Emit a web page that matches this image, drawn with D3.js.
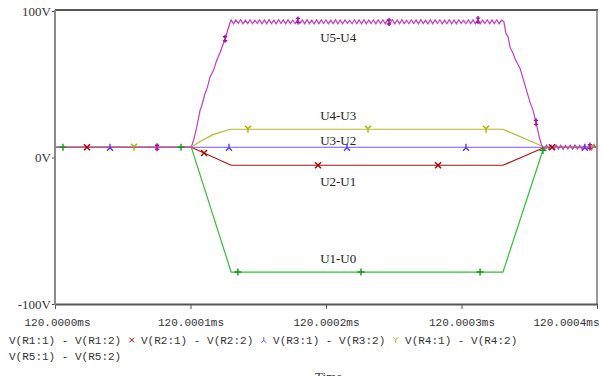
<!DOCTYPE html>
<html>
<head>
<meta charset="utf-8">
<script src="https://cdn.jsdelivr.net/npm/d3@7"></script>
<style>
body { margin: 0; background: #fff; }
</style>
</head>
<body>
<svg id="chart"></svg>
<script>
// time in ns after 120.0000ms, values in volts
const tickTimes = [0, 100, 200, 300, 400];
const tickLabels = ["120.0000ms", "120.0001ms", "120.0002ms", "120.0003ms", "120.0004ms"];
const yTicks = [100, 0, -100];
const yTickLabels = ["100V", "0V", "-100V"];

const legendNames = ["V(R1:1) - V(R1:2)", "V(R2:1) - V(R2:2)", "V(R3:1) - V(R3:2)", "V(R4:1) - V(R4:2)", "V(R5:1) - V(R5:2)"];
const traceLabels = ["U1-U0", "U2-U1", "U3-U2", "U4-U3", "U5-U4"];

const u10 = [[0, 7], [100.6, 7], [130, -78.2], [330.6, -78.2], [360, 4.8], [364, 7], [400, 7]];
const u21 = [[0, 7], [100.6, 7], [130, -5.3], [330.6, -5.3], [361.4, 7], [400, 7]];
const u32 = [[0, 7], [400, 7]];
const u43 = [[0, 7], [100.6, 7], [107, 10.9], [116.6, 15.6], [129.2, 19.3], [330.6, 19.3], [361.4, 7], [400, 7]];

const u54Rise = [[0, 7], [100.6, 7], [102.5, 12.5], [104.6, 20.7], [107, 32], [108.5, 36], [110.7, 43.5],
  [112.5, 48], [114.4, 54.8], [117, 59.5], [119.3, 66.2], [122, 72], [125.5, 81.1], [128.9, 91.3]];
// flat top, sampled every 1.75ns from 130ns
const u54Top = [
  94.0, 91.3, 93.9, 91.5, 94.1, 91.2, 93.8, 91.4, 94.0, 91.3,
  93.7, 91.5, 94.1, 91.3, 93.9, 91.2, 94.0, 91.4, 93.8, 91.3,
  94.1, 91.5, 93.9, 91.2, 94.0, 91.4, 93.7, 91.3, 94.0, 91.5,
  93.9, 91.2, 94.1, 91.4, 93.8, 91.3, 94.0, 91.2, 93.9, 91.5,
  94.0, 91.3, 93.8, 91.4, 94.1, 91.2, 93.9, 91.3, 94.0, 91.5,
  93.7, 91.3, 94.0, 91.4, 93.9, 91.2, 94.1, 91.3, 93.8, 91.5,
  94.0, 91.2, 93.9, 91.4, 94.0, 91.3, 93.8, 91.5, 94.1, 91.3,
  93.9, 91.2, 94.0, 91.4, 93.7, 91.3, 94.0, 91.5, 93.9, 91.2,
  94.1, 91.4, 93.8, 91.3, 94.0, 91.2, 93.9, 91.5, 94.0, 91.3,
  93.8, 91.4, 94.1, 91.2, 93.9, 91.3, 94.0, 91.5, 93.7, 91.3,
  94.0, 91.4, 93.9, 91.2, 94.1, 91.3, 93.8, 91.5, 94.0, 91.2,
  93.9, 91.4, 94.0, 91.3, 93.8, 92.7];
const u54Fall = [[332.8, 84.7], [334.5, 82.1], [335.8, 75.3], [338.2, 70.8], [339.5, 67.4], [343.2, 60.8],
  [346.9, 49.2], [350.6, 37.6], [352.8, 32.2], [355, 24], [357.4, 14], [359.2, 8.3]];
// ringing after the fall, every 1.75ns from 361ns
const u54Tail = [5.6, 8.4, 5.7, 8.3, 5.6, 8.5, 5.7, 8.4, 5.6, 8.3, 5.8, 8.4, 5.6, 8.5, 5.7, 8.3, 5.6, 8.4, 5.7, 8.3, 5.6, 8.4, 7.0];

const u54 = [
  ...u54Rise,
  ...u54Top.map((v, i) => [130 + i * 1.75, v]),
  ...u54Fall,
  ...u54Tail.map((v, i) => [361 + i * 1.75, v])
];

// marker times per trace
const u10Marks = [5.9, 93, 135, 225.8, 313.7, 360.1];
const u21Marks = [23.6, 110, 194.1, 282.7, 366.8];
const u32Marks = [40.6, 128.4, 215.5, 303.3, 391];
const u43Marks = [58.3, 142.4, 231, 318.1, 396];
const u54Marks = [75.3, 125.5, 179.3, 246.5, 312.2, 355, 394.8];

const width = 604;
const height = 376;
const plotLeft = 55, plotRight = 597, plotTop = 10, plotBottom = 304;

const x = d3.scaleLinear().domain([0, 400]).range([plotLeft, plotRight]);
const y = d3.scaleLinear().domain([-100, 100]).range([plotBottom, 11]);

const svg = d3.select("#chart")
  .attr("width", width)
  .attr("height", height)
  .attr("viewBox", [0, 0, width, height]);

const markerPaths = {
  plus: "M-3.5,0H3.5M0,-3.5V3.5",
  cross: "M-3,-3L3,3M-3,3L3,-3",
  lambda: "M0,-3.5V0.5M0,0.5L-3,3.5M0,0.5L3,3.5",
  ychar: "M0,3.5V-0.5M0,-0.5L-3,-3.5M0,-0.5L3,-3.5",
  dagger: "M0,-4V4M-2.2,-2H2.2M-2.2,2H2.2"
};

const traces = [
  { data: u10, marks: u10Marks, color: "#33c033", markColor: "#129a12", marker: "plus" },
  { data: u21, marks: u21Marks, color: "#b01010", markColor: "#b00000", marker: "cross" },
  { data: u32, marks: u32Marks, color: "#7a55ff", markColor: "#5a32ff", marker: "lambda" },
  { data: u43, marks: u43Marks, color: "#b8b824", markColor: "#b0b000", marker: "ychar" },
  { data: u54, marks: u54Marks, color: "#c43cc4", markColor: "#a010a0", marker: "dagger" }
];

// frame
svg.append("line").attr("x1", plotLeft).attr("x2", plotRight + 1).attr("y1", plotTop).attr("y2", plotTop)
  .attr("stroke", "#555").attr("stroke-width", 2);
svg.append("line").attr("x1", plotRight).attr("x2", plotRight).attr("y1", plotTop).attr("y2", plotBottom)
  .attr("stroke", "#777").attr("stroke-width", 1.5);

const line = d3.line().x(d => x(d[0])).y(d => y(d[1]));

const valueAt = (data, t) => {
  const i = d3.bisector(d => d[0]).right(data, t);
  if (i <= 0) return data[0][1];
  if (i >= data.length) return data[data.length - 1][1];
  const a = data[i - 1], b = data[i];
  return a[1] + (b[1] - a[1]) * (t - a[0]) / (b[0] - a[0]);
};

traces.forEach(tr => {
  svg.append("path")
    .datum(tr.data)
    .attr("fill", "none")
    .attr("stroke", tr.color)
    .attr("stroke-width", 1.2)
    .attr("d", line);
});

traces.forEach(tr => {
  svg.append("g")
    .selectAll("path")
    .data(tr.marks)
    .join("path")
    .attr("transform", t => `translate(${x(t)},${y(valueAt(tr.data, t))})`)
    .attr("d", markerPaths[tr.marker])
    .attr("fill", "none")
    .attr("stroke", tr.markColor)
    .attr("stroke-width", 1.4);
});

// axes
const xAxis = svg.append("g")
  .attr("transform", `translate(0,${plotBottom})`)
  .call(d3.axisBottom(x).tickValues(tickTimes).tickFormat((d, i) => tickLabels[i]).tickSize(5).tickSizeOuter(0));
xAxis.select(".domain").attr("stroke", "#555").attr("stroke-width", 2);
xAxis.selectAll(".tick line").attr("stroke", "#555");
xAxis.selectAll("text")
  .attr("y", 22).attr("dy", null)
  .attr("fill", "#333")
  .style("font", "11px 'Liberation Mono', monospace");
xAxis.selectAll(".tick").filter((d, i) => i === tickTimes.length - 1)
  .select("text").attr("text-anchor", "end").attr("x", 2);
xAxis.selectAll(".tick").filter((d, i) => i === 0)
  .select("text").attr("x", 2);

const yAxis = svg.append("g")
  .attr("transform", `translate(${plotLeft},0)`)
  .call(d3.axisLeft(y).tickValues(yTicks).tickFormat((d, i) => yTickLabels[i]).tickSize(3).tickPadding(1).tickSizeOuter(0));
yAxis.select(".domain").remove();
yAxis.selectAll(".tick line").attr("stroke", "#444");
yAxis.selectAll("text")
  .attr("fill", "#333")
  .style("font", "13px 'Liberation Serif', serif");
svg.append("line").attr("x1", plotLeft).attr("x2", plotLeft).attr("y1", plotTop).attr("y2", plotBottom + 1)
  .attr("stroke", "#8a8a8a").attr("stroke-width", 2);

// trace names
const labelT = 209;
const labelV = [-72.1, -19.6, 8.3, 25.4, 78.5];
svg.append("g")
  .selectAll("text")
  .data(traceLabels)
  .join("text")
  .attr("x", x(labelT))
  .attr("y", (d, i) => y(labelV[i]))
  .attr("text-anchor", "middle")
  .attr("fill", "#222")
  .style("font", "13px 'Liberation Serif', serif")
  .text(d => d);

// legend
const legendRows = [[0, 1, 2, 3], [4]];
const charW = 6.6;
legendRows.forEach((row, r) => {
  let lx = 9;
  const ly = 344 + r * 16;
  row.forEach((idx, k) => {
    if (k > 0) {
      svg.append("path")
        .attr("d", markerPaths[traces[idx].marker])
        .attr("fill", "none")
        .attr("stroke", traces[idx].markColor)
        .attr("stroke-width", 1.2)
        .attr("transform", `translate(${lx + charW * 0.6},${ly - 4}) scale(0.8)`);
      lx += charW * 2;
    }
    const t = svg.append("text")
      .attr("x", lx)
      .attr("y", ly)
      .attr("fill", "#333")
      .style("font", "11px 'Liberation Mono', monospace")
      .text(legendNames[idx]);
    lx += t.node().getComputedTextLength() + charW;
  });
});

svg.append("text")
  .attr("x", 315)
  .attr("y", 381)
  .attr("fill", "#333")
  .style("font", "13px 'Liberation Serif', serif")
  .text("Time");
</script>
</body>
</html>
